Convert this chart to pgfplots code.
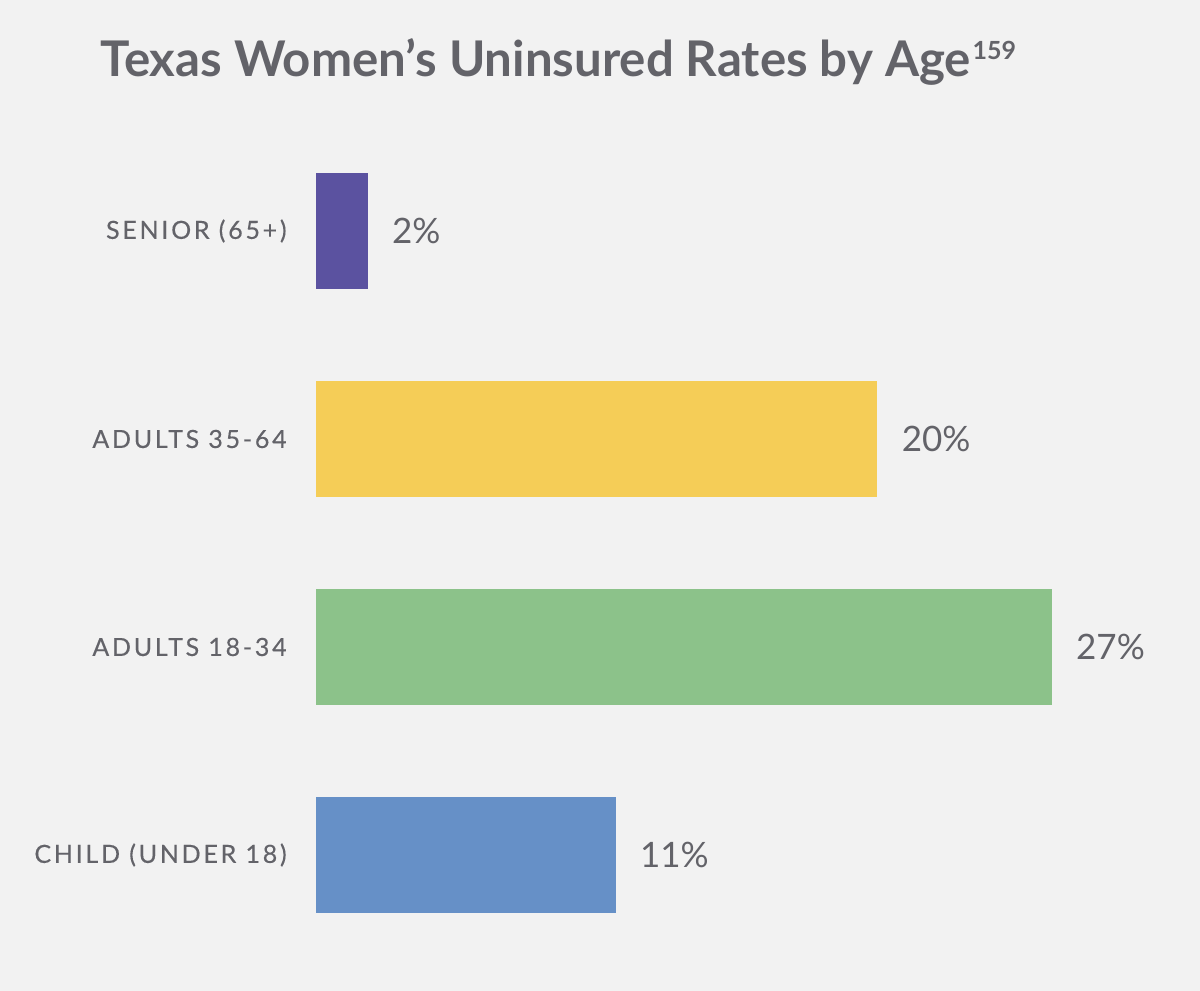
\documentclass[border=0pt]{standalone}
\usepackage{fontspec}
\setmainfont{Lato}
\newfontfamily\labelfont[LetterSpace=11, FakeBold=0.3]{Lato}
\usepackage{pgfplots}
\pgfplotsset{compat=1.18}
\definecolor{bg}{HTML}{F2F2F2}
\definecolor{txt}{HTML}{636369}
\definecolor{cpurple}{HTML}{5B52A0}
\definecolor{cyellow}{HTML}{F5CD57}
\definecolor{cgreen}{HTML}{8CC28A}
\definecolor{cblue}{HTML}{6690C7}
\begin{document}
\begin{tikzpicture}
\fill[bg] (0,0) rectangle (600pt,495.5pt);
\node[anchor=base west, inner sep=0pt, text=txt, font=\fontsize{24.6}{28}\selectfont\bfseries] at (50pt,457pt) {Texas Women’s Uninsured Rates by Age\hspace{1pt}\raisebox{8.5pt}{\fontsize{12.5}{13}\selectfont 159}};
\begin{axis}[
  at={(158pt,16pt)}, anchor=south west,
  scale only axis, width=408.75pt, height=416pt,
  xmin=0, xmax=30, ymin=-0.5, ymax=3.5,
  xbar, bar width=58pt, bar shift=0pt,
  hide x axis,
  axis y line*=left,
  y axis line style={draw=none},
  major tick length=0pt,
  ytick={0,1,2,3},
  yticklabels={CHILD (UNDER 18), ADULTS 18-34, ADULTS 35-64, SENIOR (65+)},
  yticklabel style={anchor=east, inner sep=0pt, xshift=-14.5pt, text=txt, font=\labelfont\fontsize{12.5}{14}\selectfont},
  clip=false,
  point meta=explicit symbolic,
  nodes near coords={\pgfplotspointmeta\%},
  nodes near coords style={anchor=west, inner sep=0pt, xshift=12pt, text=txt, font=\fontsize{17.5}{20}\selectfont},
]
\addplot[fill=cblue, draw=none] coordinates {(11.0,0) [11]};
\addplot[fill=cgreen, draw=none] coordinates {(27.0,1) [27]};
\addplot[fill=cyellow, draw=none] coordinates {(20.6,2) [20]};
\addplot[fill=cpurple, draw=none] coordinates {(1.9,3) [2]};
\end{axis}
\end{tikzpicture}
\end{document}
